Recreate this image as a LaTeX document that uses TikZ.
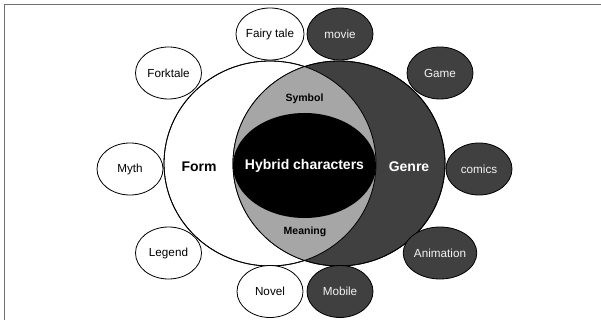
\documentclass[tikz,border=0pt]{standalone}
\usepackage{fontspec}
\setmainfont{Liberation Sans}
\usetikzlibrary{shapes.geometric}
\definecolor{darkfill}{HTML}{404040}
\definecolor{lensgray}{HTML}{A6A6A6}
\definecolor{framegray}{HTML}{707070}
\definecolor{lighttext}{HTML}{F2F2F2}
\begin{document}
\begin{tikzpicture}[x=1pt,y=-1pt,
  bubble/.style={ellipse, draw=black, line width=0.8pt, minimum width=66pt, minimum height=52pt, inner sep=0pt, font=\fontsize{11.7}{14}\selectfont},
  lightbubble/.style={bubble, fill=white, text=black},
  darkbubble/.style={bubble, fill=darkfill, text=lighttext},
  bigcircle/.style={ellipse, draw=black, line width=0.8pt, minimum width=212pt, minimum height=205pt, inner sep=0pt},
  bigtext/.style={font=\fontsize{14}{16}\selectfont\bfseries, inner sep=0pt},
  smalltext/.style={font=\fontsize{10.5}{12}\selectfont\bfseries, inner sep=0pt, text=black}]
\useasboundingbox (0,0) rectangle (601,320);
% frame
\coordinate (ftr) at (601,4.5);
\coordinate (ftl) at (4.5,4.5);
\coordinate (fbl) at (4.5,320);
\draw[framegray, line width=1.5pt] (ftr) -- (ftl) -- (fbl);
% main circles
\node[bigcircle, fill=white] (form) at (270,163.5) {};
\node[bigcircle, fill=darkfill] (genre) at (339,163.5) {};
% lens
\begin{scope}
  \clip (270,163.5) ellipse [x radius=106, y radius=102.5];
  \fill[lensgray] (339,163.5) ellipse [x radius=106, y radius=102.5];
  \clip (339,163.5) ellipse [x radius=106, y radius=102.5];
  \node[ellipse, fill=black, minimum width=143pt, minimum height=105pt, inner sep=0pt] (core) at (304.5,165.5) {};
\end{scope}
\draw[line width=0.8pt] (270,163.5) ellipse [x radius=106, y radius=102.5];
\draw[line width=0.8pt] (339,163.5) ellipse [x radius=106, y radius=102.5];
\node[bigtext, text=white] (hybrid) at (304.5,166) {Hybrid characters};
\node[bigtext, text=black] (formlabel) at (199,166.5) {Form};
\node[bigtext, text=white] (genrelabel) at (409,166.5) {Genre};
\node[smalltext] (symbol) at (304.5,99) {Symbol};
\node[smalltext] (meaning) at (305,232) {Meaning};
% surrounding bubbles
\node[lightbubble] (forktale) at (168.5,73) {Forktale};
\node[lightbubble] (myth) at (130,169) {Myth};
\node[lightbubble] (legend) at (168.5,253) {Legend};
\node[lightbubble] (fairy) at (270,34) {Fairy tale};
\node[lightbubble] (novel) at (270,291.5) {Novel};
\node[darkbubble] (movie) at (340,34) {movie};
\node[darkbubble] (mobile) at (340,291.5) {Mobile};
\node[darkbubble] (game) at (440,73) {Game};
\node[darkbubble] (comics) at (479,169) {comics};
\node[darkbubble] (animation) at (440,253) {Animation};
\end{tikzpicture}
\end{document}
